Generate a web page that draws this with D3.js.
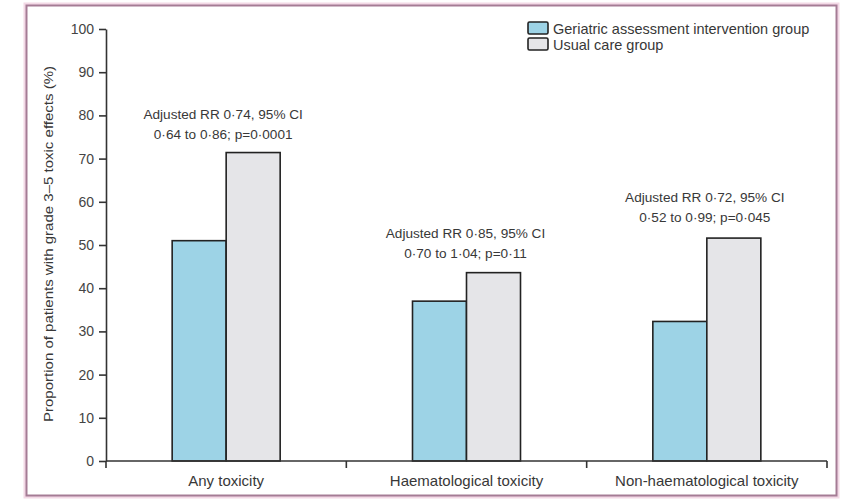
<html>

<head>
  <script src="https://d3js.org/d3.v7.min.js"></script>
  <style>
    body {
      margin: 0;
      background: #fff;
    }

    svg text {
      font-family: "Liberation Sans", sans-serif;
      fill: #383838;
    }

    .axis path,
    .axis line {
      stroke: #333;
      stroke-width: 1.6;
    }
  </style>
</head>

<body>
  <svg id="chart" width="841" height="500"></svg>
  <script>
    // data
    const categories = ["Any toxicity", "Haematological toxicity", "Non-haematological toxicity"];
    const groups = ["Geriatric assessment intervention group", "Usual care group"];
    const interventionValues = [51, 37, 32.3];
    const usualCareValues = [71.4, 43.6, 51.6];
    const yTicks = [0, 10, 20, 30, 40, 50, 60, 70, 80, 90, 100];
    const annotations = [
      ["Adjusted RR 0·74, 95% CI", "0·64 to 0·86; p=0·0001"],
      ["Adjusted RR 0·85, 95% CI", "0·70 to 1·04; p=0·11"],
      ["Adjusted RR 0·72, 95% CI", "0·52 to 0·99; p=0·045"]
    ];
    // baseline of the first annotation line, in % units
    const annotationBase = [79.2, 51.6, 60.0];

    const svg = d3.select("#chart");
    const margin = { top: 29, right: 14, bottom: 39, left: 106 };
    const width = 841, height = 500;
    const chartWidth = width - margin.left - margin.right;
    const chartHeight = height - margin.top - margin.bottom;

    // outer frame
    svg.append("rect")
      .attr("x", 25).attr("y", 4).attr("width", 813).attr("height", 493)
      .attr("fill", "none").attr("stroke", "#f3d9e6").attr("stroke-width", 3);
    svg.append("rect")
      .attr("x", 26.5).attr("y", 5.5).attr("width", 810).attr("height", 490)
      .attr("fill", "#fff").attr("stroke", "#a57c95").attr("stroke-width", 2);

    const g = svg.append("g").attr("transform", `translate(${margin.left},${margin.top})`);

    const x = d3.scaleBand().domain(categories).range([0, chartWidth]);
    const xInner = d3.scaleBand().domain(groups).range([0, 108]);
    const y = d3.scaleLinear().domain([0, 100]).range([chartHeight, 0]);
    const color = d3.scaleOrdinal().domain(groups).range(["#9dd3e6", "#e5e5e8"]);

    const rows = categories.map((c, i) => ({
      category: c,
      values: [
        { group: groups[0], value: interventionValues[i] },
        { group: groups[1], value: usualCareValues[i] }
      ]
    }));

    // bars
    const cat = g.selectAll("g.cat").data(rows).join("g")
      .attr("class", "cat")
      .attr("transform", d => `translate(${x(d.category) + x.bandwidth() / 2 - 54},0)`);
    cat.selectAll("rect").data(d => d.values).join("rect")
      .attr("x", d => xInner(d.group))
      .attr("y", d => y(d.value))
      .attr("width", xInner.bandwidth())
      .attr("height", d => chartHeight - y(d.value))
      .attr("fill", d => color(d.group))
      .attr("stroke", "#222")
      .attr("stroke-width", 1.6);

    // y axis
    const yAxis = d3.axisLeft(y).tickValues(yTicks).tickSize(7).tickPadding(5).tickSizeOuter(0);
    g.append("g").attr("class", "y axis").call(yAxis)
      .call(a => a.selectAll("text").style("font-size", "14px").style("fill", "#444"));

    // x axis with ticks at band edges
    const xAxisG = g.append("g").attr("class", "x axis")
      .attr("transform", `translate(0,${chartHeight})`);
    xAxisG.append("line").attr("x1", 0).attr("x2", chartWidth).attr("y1", 0).attr("y2", 0);
    const edges = [0].concat(categories.map(c => x(c) + x.bandwidth()));
    xAxisG.selectAll("line.tick").data(edges).join("line")
      .attr("class", "tick")
      .attr("x1", d => d).attr("x2", d => d).attr("y1", 0).attr("y2", 7);
    xAxisG.selectAll("text").data(categories).join("text")
      .attr("x", d => x(d) + x.bandwidth() / 2)
      .attr("y", 25)
      .attr("text-anchor", "middle")
      .style("font-size", "15px")
      .text(d => d);

    // annotations
    const annOffset = [-3, -1, -2];
    rows.forEach((d, i) => {
      const cx = x(d.category) + x.bandwidth() / 2 + annOffset[i];
      const t = g.append("text")
        .attr("x", cx)
        .attr("y", y(annotationBase[i]))
        .attr("text-anchor", "middle")
        .style("font-size", "13.6px");
      annotations[i].forEach((line, j) => {
        t.append("tspan")
          .attr("x", cx)
          .attr("dy", j === 0 ? 0 : 20)
          .text(line);
      });
    });

    // y title
    svg.append("text")
      .attr("transform", `translate(53,244) rotate(-90)`)
      .attr("text-anchor", "middle")
      .attr("textLength", 356)
      .attr("lengthAdjust", "spacingAndGlyphs")
      .style("font-size", "13px")
      .text("Proportion of patients with grade 3–5 toxic effects (%)");

    // legend
    const legend = svg.append("g").attr("transform", "translate(528,22)");
    const item = legend.selectAll("g").data(groups).join("g")
      .attr("transform", (d, i) => `translate(0,${i * 16})`);
    item.append("rect")
      .attr("width", 20).attr("height", 12).attr("rx", 1.5)
      .attr("fill", d => color(d)).attr("stroke", "#222").attr("stroke-width", 1.6);
    item.append("text")
      .attr("x", 25).attr("y", 11.5)
      .style("font-size", "14.5px")
      .text(d => d);
  </script>
</body>

</html>
